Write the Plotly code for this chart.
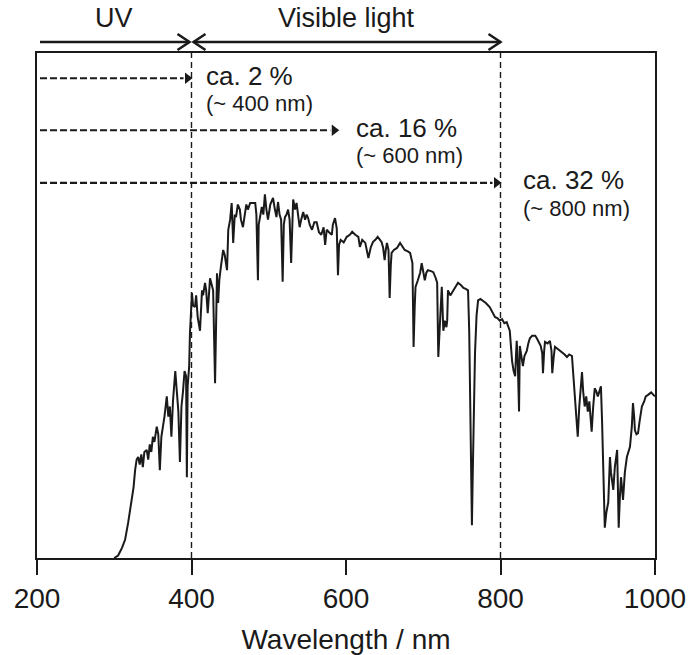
import plotly.graph_objects as go

# ---------------- data ----------------
WAVELENGTH_NM = [
    300, 305, 310, 314, 318, 322, 325, 327, 329, 331, 333, 335, 337, 339, 342, 344, 346, 348, 350, 352,
    355, 357, 359, 361, 363, 365, 368, 370, 372, 374, 376, 379, 381, 383, 385, 387, 389, 391, 393, 394,
    395, 397, 398, 400.6, 402, 404.5, 406, 408, 411, 413.6, 415, 417.5, 419, 421, 424, 426, 428, 430.5,
    433, 434.5, 436, 438, 441, 443, 446, 447.6, 450, 452, 454, 456, 457.6, 460, 462.6, 464, 466.6, 469,
    471, 473, 476, 479.6, 482.5, 484, 486, 487, 489, 491, 493, 495, 497, 499, 502, 505.5, 508, 510, 512,
    514, 516, 518, 519.5, 521, 523, 525, 527, 529, 531.6, 534, 536, 538, 540, 542, 544.6, 547, 549, 551,
    553, 556, 559, 562, 565, 568, 571, 573, 575, 578, 581.6, 583, 585.8, 588, 589.6, 591, 593, 597, 601,
    605, 608, 612, 616, 618, 621, 625, 627, 629, 632, 635, 638, 641, 644, 646, 648, 650, 651.5, 653, 655,
    656.5, 658, 659, 662, 666, 670, 673, 676, 680, 683, 686, 687.5, 689, 690, 693, 696, 698, 700, 702,
    704, 706, 710, 713, 716, 718, 719.5, 721, 722, 724, 725, 726, 728, 730, 731, 732, 735, 739, 742, 745,
    749, 752, 755, 758, 759.5, 760.5, 762, 763, 764, 765.5, 767, 769, 771, 774, 777, 781, 786, 790, 793,
    796, 799, 802, 805, 808, 810, 812, 814, 815, 817, 819, 820, 821, 822.5, 824, 825, 827, 829, 831, 834,
    836, 838, 841, 845, 847, 849, 852, 854, 855, 856.5, 857.6, 861, 864, 866, 867, 869, 870.5, 875, 879.6,
    883, 886, 889, 892.5, 894, 896, 898, 900, 902, 905.5, 907, 909, 911, 913, 915, 918, 920, 922, 924,
    926, 928, 930, 931.5, 933, 935, 937, 939.5, 941.7, 943, 946, 948, 951, 953, 954.5, 956, 958.6, 961,
    963.6, 965.5, 967.6, 970, 971.5, 973, 974, 976, 978, 980, 983, 986, 988, 991, 995, 998, 1000,
]
IRRADIANCE = [
    0, 0.5, 2, 3.6, 7, 10.9, 14, 17.4, 19.5, 20, 18.5, 20.5, 18, 21, 21.4, 19.5, 22.5, 21, 24, 23,
    26, 24.5, 17.4, 24, 26, 28, 32, 28, 30, 24, 31, 37, 33, 29, 19, 30, 33, 37, 36, 16,
    34, 38, 44.5, 52.5, 50, 49.7, 52, 47.7, 45, 53, 52, 54.5, 53, 48.5, 55.4, 54, 53, 34.6,
    56.4, 50.5, 55, 57.6, 61, 60, 57, 65, 67, 70.3, 62.4, 68, 67.5, 70, 69, 67, 65.5, 68,
    70, 69, 70.3, 70.3, 70.3, 68, 55, 66, 68, 69.5, 68, 72, 69, 67, 70, 71.3, 69, 67.5, 70.5,
    68, 67, 54.7, 66, 67.5, 68, 69, 67, 58.4, 71, 69, 70.3, 68, 65.5, 67, 68.5, 67, 68, 67.3,
    66, 65, 66.5, 66.5, 64.5, 64, 65.5, 62, 65, 64.5, 64, 66, 67.3, 65.3, 56, 62, 63, 62.5, 63.6,
    64, 64.6, 64, 63.6, 61.6, 63, 62.4, 61, 59.4, 61.5, 62.6, 63, 63.6, 63, 62.6, 61.5, 59, 61, 62.4, 61,
    51.5, 58, 60.4, 61, 61.4, 62.4, 61.8, 61, 60.7, 60.4, 58.4, 41.8, 50, 53.7, 55, 56.5, 58.4, 56.5, 55,
    56.5, 57, 56.8, 56.6, 55.5, 54.5, 39.8, 47, 47.7, 53.7, 48, 45, 47, 45.7, 47, 53, 52, 53, 53.5, 54.5,
    54, 53.5, 53.3, 53, 45, 30, 15, 6.5, 16, 30, 40.6, 48, 51, 51.3, 51, 50.5, 49.7, 48.5, 47.7,
    47.5, 47, 47.3, 46.5, 46.7, 46, 45, 41, 39, 37, 36, 40, 43, 38, 29, 42, 40, 38, 40, 41,
    42.5, 43.5, 44, 44, 43.5, 43, 42, 40.6, 36.6, 41, 42.8, 42.5, 43, 41, 36.6, 40, 41.8, 41.3, 40.8,
    40.3, 39.8, 40.3, 40, 37, 33, 29, 24, 30, 36.8, 33, 30, 32, 29, 31, 25, 30, 33.6, 33,
    32, 33, 34, 27, 19.4, 6, 9, 11, 20, 17, 13.5, 18, 21.4, 6, 12, 16, 11.5, 17,
    20, 21, 22, 26, 30.7, 28, 25.3, 24.5, 24.7, 27, 30, 31, 32, 32.3, 32.8, 32.3, 32,
]
X_TICKS = [200, 400, 600, 800, 1000]
BOUNDARIES_NM = [400, 800]
BANDS = [("UV", 200, 400), ("Visible light", 400, 800)]
FRACTION_LABELS = ["ca. 2 %", "ca. 16 %", "ca. 32 %"]
FRACTION_SUBLABELS = ["(~ 400 nm)", "(~ 600 nm)", "(~ 800 nm)"]
FRACTION_ENDS_NM = [400, 590, 800]
FRACTION_LEVELS = [95, 84.7, 74.3]

# ---------------- styling ----------------
FONT = "Liberation Sans, Arial, sans-serif"
INK = "#1a1a1a"
W, H = 689, 655
ML, MR, MT, MB = 37, 34, 53, 97
PW = W - ML - MR
PH = H - MT - MB
X0, X1 = 200, 1000
NM_PER_PX = (X1 - X0) / PW

fig = go.Figure()

# spectrum
fig.add_trace(go.Scatter(
    x=WAVELENGTH_NM, y=IRRADIANCE, mode="lines",
    line=dict(color=INK, width=2), hoverinfo="skip", showlegend=False,
))

shapes = []
annotations = []

# dashed vertical boundaries
for b in BOUNDARIES_NM:
    shapes.append(dict(type="line", xref="x", yref="paper", x0=b, x1=b, y0=0, y1=1,
                       line=dict(color=INK, width=1.4, dash="6px,4px")))

# dashed fraction arrows
arrow_start = X0 + 3 * NM_PER_PX
head_back = 4 * NM_PER_PX
for end, lvl, lab, sub, off in zip(FRACTION_ENDS_NM, FRACTION_LEVELS, FRACTION_LABELS,
                                   FRACTION_SUBLABELS, [12, 16, 20]):
    fig.add_trace(go.Scatter(
        x=[arrow_start, end - 2 * head_back], y=[lvl, lvl], mode="lines",
        line=dict(color=INK, width=2.2, dash="7px,3px"), hoverinfo="skip", showlegend=False,
    ))
    fig.add_trace(go.Scatter(
        x=[end - head_back], y=[lvl], mode="markers",
        marker=dict(symbol="triangle-right", size=10, color=INK, line=dict(width=0)),
        hoverinfo="skip", showlegend=False,
    ))
    tx = end + off * NM_PER_PX
    annotations.append(dict(x=tx, y=lvl + 0.5, xref="x", yref="y", text=lab, showarrow=False,
                            xanchor="left", yanchor="middle",
                            font=dict(family=FONT, size=26, color=INK)))
    annotations.append(dict(x=tx, y=lvl - 5.0, xref="x", yref="y", text=sub, showarrow=False,
                            xanchor="left", yanchor="middle",
                            font=dict(family=FONT, size=22, color=INK)))

# top solid band arrows with open chevron heads
ytop = 1 + 11 / PH
ylab = 1 + 35 / PH
chev_dx = 12 * NM_PER_PX
chev_dy = 8 / PH
gap = 2 * NM_PER_PX


def chevron(tip, direction):
    back = tip - direction * chev_dx
    return dict(type="path", xref="x", yref="paper",
                path=f"M {back},{ytop + chev_dy} L {tip},{ytop} L {back},{ytop - chev_dy}",
                line=dict(color=INK, width=2.5))


for i, (name, a, b) in enumerate(BANDS):
    left = a + (gap if i > 0 else 3 * NM_PER_PX)
    right = b - gap if i == 0 else b
    shapes.append(dict(type="line", xref="x", yref="paper", x0=left, x1=right, y0=ytop, y1=ytop,
                       line=dict(color=INK, width=2.5)))
    shapes.append(chevron(right, 1))
    if i > 0:
        shapes.append(chevron(left, -1))
    annotations.append(dict(x=(a + b) / 2, y=ylab, xref="x", yref="paper", text=name,
                            showarrow=False, xanchor="center", yanchor="middle",
                            font=dict(family=FONT, size=27, color=INK)))

fig.update_layout(
    width=W, height=H,
    margin=dict(l=ML, r=MR, t=MT, b=MB, autoexpand=False),
    paper_bgcolor="white", plot_bgcolor="white",
    shapes=shapes, annotations=annotations,
    showlegend=False,
    xaxis=dict(
        range=[X0, X1], tickvals=X_TICKS, ticktext=[str(t) for t in X_TICKS],
        ticks="outside", ticklen=15, tickwidth=1.5, tickcolor=INK,
        showline=True, mirror=True, linecolor=INK, linewidth=1.5,
        showgrid=False, zeroline=False, automargin=False,
        tickfont=dict(family=FONT, size=28, color=INK),
        title=dict(text="Wavelength / nm", font=dict(family=FONT, size=28, color=INK), standoff=16),
    ),
    yaxis=dict(
        range=[0, 100], showticklabels=False, ticks="",
        showline=True, mirror=True, linecolor=INK, linewidth=1.5,
        showgrid=False, zeroline=False, automargin=False,
    ),
)

fig.write_html("out.html")
